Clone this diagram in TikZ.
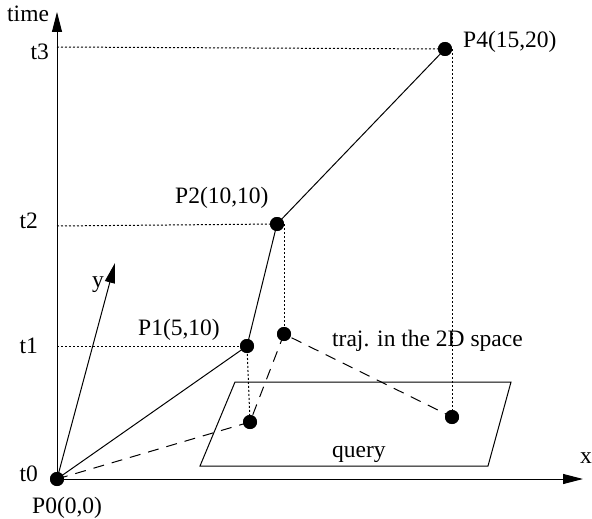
\documentclass[tikz,border=0pt]{standalone}
\usepackage{fontspec}
\setmainfont{Liberation Serif}
\usetikzlibrary{arrows.meta}
\begin{document}
\begin{tikzpicture}[x=1pt,y=-1pt,
  every node/.style={font=\fontsize{23.5}{28}\selectfont},
  dot/.style={circle,fill=black,inner sep=0pt,minimum size=14pt},
  lbl/.style={inner sep=0pt},
  axis/.style={line width=1pt,-{Triangle[length=20pt,width=10pt]}},
  traj/.style={line width=1pt},
  proj/.style={line width=1pt,dash pattern=on 11pt off 8pt},
  guide/.style={line width=1pt,dash pattern=on 2pt off 2pt}]
\useasboundingbox (0,0) rectangle (592,519);
% points
\coordinate (O) at (57,479);
\coordinate (T) at (57,12);
\coordinate (X) at (583,479);
\coordinate (Y) at (115,263);
\node[dot] (p0) at (57,479) {};
\node[dot] (p1) at (247,346) {};
\node[dot] (p2) at (277,224) {};
\node[dot] (p4) at (445,49) {};
\node[dot] (q1) at (250,422) {};
\node[dot] (q2) at (284,334) {};
\node[dot] (q4) at (452,417) {};
\coordinate (a3) at (57,47);
\coordinate (a2) at (57,226);
\coordinate (a1) at (57,346);
\coordinate (v2) at (284,224);
\coordinate (v4) at (452,49);
% query region
\draw[line width=1pt] (235,382) -- (511,382) -- (488,466) -- (200,466) -- cycle;
% axes
\draw[axis] (O) -- (T);
\draw[axis] (O) -- (X);
\draw[axis] (O) -- (Y);
% guides
\draw[guide] (a3) -- (p4.center);
\draw[guide] (a2) -- (p2.center);
\draw[guide] (a1) -- (p1.center);
\draw[guide] (p1.center) -- (q1.center);
\draw[guide] (v2) -- (q2.center);
\draw[guide] (v4) -- (q4.center);
% trajectory
\draw[traj] (p0.center) -- (p1.center) -- (p2.center) -- (p4.center);
\draw[proj] (p0.center) -- (q1.center) -- (q2.center) -- (q4.center);
% redraw dots on top
\foreach \n in {p0,p1,p2,p4,q1,q2,q4} \fill (\n) circle (7pt);
% labels
\node[lbl,anchor=base west] (ltime) at (7,22) {time};
\node[lbl,anchor=base east] (lt3) at (49,60) {t3};
\node[lbl,anchor=base east] (lt2) at (38,228) {t2};
\node[lbl,anchor=base east] (lt1) at (38,353) {t1};
\node[lbl,anchor=base east] (lt0) at (38,481) {t0};
\node[lbl,anchor=base west] (lp0) at (32,513) {P0(0,0)};
\node[lbl,anchor=base west] (lp1) at (138,335) {P1(5,10)};
\node[lbl,anchor=base west] (lp2) at (175,203) {P2(10,10)};
\node[lbl,anchor=base west] (lp4) at (463,48) {P4(15,20)};
\node[lbl,anchor=base west] (ltraj) at (332,346) {traj. in the 2D space};
\node[lbl,anchor=base west] (lq) at (332,457) {query};
\node[lbl,anchor=base west] (ly) at (92,287) {y};
\node[lbl,anchor=base west] (lx) at (580,463) {x};
\end{tikzpicture}
\end{document}
